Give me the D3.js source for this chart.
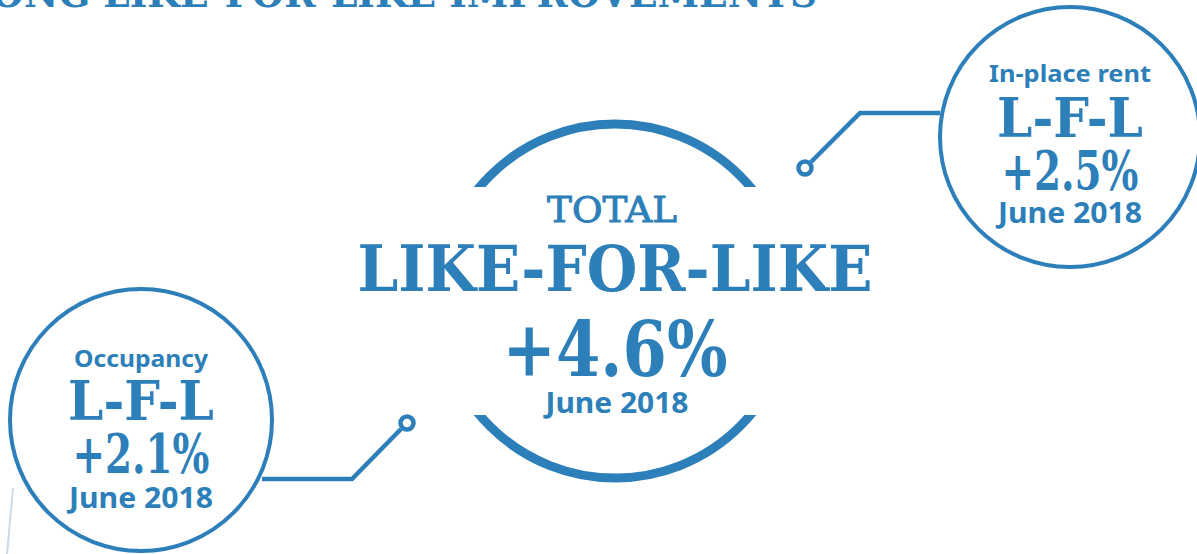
<!doctype html>
<html lang="en">
<head>
<meta charset="utf-8">
<title>Like-for-like improvements</title>
<style>
  body { margin: 0; background: #fff; }
  svg { display: block; }
</style>
<script src="https://d3js.org/d3.v7.min.js"></script>
</head>
<body>
<div id="chart"></div>
<script>
// chart values
var headline = "STRONG LIKE-FOR-LIKE IMPROVEMENTS";
var totalLabel = ["TOTAL", "LIKE-FOR-LIKE"];
var totalValue = 4.6;
var metricNames = ["Occupancy", "In-place rent"];
var metricValues = [2.1, 2.5];
var periodLabel = "June 2018";

var W = 1197, H = 554;
var blue = "#2c7fb8";
var serif = "'DejaVu Serif', 'Liberation Serif', serif";
var sans = "'Noto Sans', 'Open Sans', sans-serif";
var fmt = function(v) { return "+" + d3.format(".1f")(v) + "%"; };

var svg = d3.select("#chart").append("svg")
  .attr("width", W)
  .attr("height", H);

// cut-off title at the very top
svg.append("text")
  .attr("x", 817).attr("y", 7)
  .attr("text-anchor", "end")
  .attr("textLength", 912)
  .attr("lengthAdjust", "spacingAndGlyphs")
  .attr("font-family", serif).attr("font-weight", "bold")
  .attr("font-size", 40).attr("fill", blue)
  .text(headline);

// faint decoration bottom-left
svg.append("line")
  .attr("x1", 13).attr("y1", 488).attr("x2", 7).attr("y2", 554)
  .attr("stroke", "#c9dcec").attr("stroke-width", 2);

// big centre circle, cut where the text sits
var cx = 615, cy = 301, R = 177;
var clip = svg.append("defs").append("clipPath").attr("id", "cut");
clip.append("rect").attr("x", 0).attr("y", 0).attr("width", W).attr("height", 187);
clip.append("rect").attr("x", 0).attr("y", 415).attr("width", W).attr("height", H - 415);

svg.append("circle")
  .attr("cx", cx).attr("cy", cy).attr("r", R)
  .attr("fill", "none").attr("stroke", blue).attr("stroke-width", 9)
  .attr("clip-path", "url(#cut)");

var centre = svg.append("g").attr("fill", blue).attr("text-anchor", "middle");
centre.append("text")
  .attr("x", cx - 3).attr("y", 222)
  .attr("font-family", serif).attr("font-size", 35)
  .attr("stroke", blue).attr("stroke-width", 0.9)
  .attr("textLength", 130).attr("lengthAdjust", "spacingAndGlyphs")
  .text(totalLabel[0]);
centre.append("text")
  .attr("x", cx).attr("y", 291)
  .attr("font-family", serif).attr("font-weight", "bold").attr("font-size", 63)
  .attr("textLength", 515).attr("lengthAdjust", "spacingAndGlyphs")
  .text(totalLabel[1]);
centre.append("text")
  .attr("x", cx).attr("y", 376)
  .attr("font-family", serif).attr("font-weight", "bold").attr("font-size", 76)
  .attr("textLength", 225).attr("lengthAdjust", "spacingAndGlyphs")
  .text(fmt(totalValue));
centre.append("text")
  .attr("x", cx + 2).attr("y", 413)
  .attr("font-family", sans).attr("font-weight", "bold").attr("font-size", 28)
  .attr("textLength", 143).attr("lengthAdjust", "spacingAndGlyphs")
  .text(periodLabel);

// the two small circles with their connectors
var bubbles = [
  { name: metricNames[0], value: metricValues[0], x: 141, y: 420, r: 131,
    nameW: 134, lines: [367, 420, 473, 508],
    path: [[262, 479], [352, 479], [401, 429]], dot: [407, 423] },
  { name: metricNames[1], value: metricValues[1], x: 1070, y: 137, r: 130,
    nameW: 162, lines: [82, 137, 190, 223],
    path: [[940, 113], [860, 113], [811, 162]], dot: [805, 168] }
];

var line = d3.line();

bubbles.forEach(function(b) {
  svg.append("path")
    .attr("d", line(b.path))
    .attr("fill", "none").attr("stroke", blue).attr("stroke-width", 4.5)
    .attr("stroke-linejoin", "miter");
  svg.append("circle")
    .attr("cx", b.dot[0]).attr("cy", b.dot[1]).attr("r", 6.5)
    .attr("fill", "#fff").attr("stroke", blue).attr("stroke-width", 4.5);

  svg.append("circle")
    .attr("cx", b.x).attr("cy", b.y).attr("r", b.r)
    .attr("fill", "none").attr("stroke", blue).attr("stroke-width", 4);

  var g = svg.append("g").attr("fill", blue).attr("text-anchor", "middle");
  g.append("text")
    .attr("x", b.x).attr("y", b.lines[0])
    .attr("font-family", sans).attr("font-weight", "bold").attr("font-size", 24)
    .attr("textLength", b.nameW).attr("lengthAdjust", "spacingAndGlyphs")
    .text(b.name);
  g.append("text")
    .attr("x", b.x).attr("y", b.lines[1])
    .attr("font-family", serif).attr("font-weight", "bold").attr("font-size", 54)
    .attr("textLength", 146).attr("lengthAdjust", "spacingAndGlyphs")
    .text("L-F-L");
  g.append("text")
    .attr("x", b.x).attr("y", b.lines[2])
    .attr("font-family", serif).attr("font-weight", "bold").attr("font-size", 54)
    .attr("textLength", 137).attr("lengthAdjust", "spacingAndGlyphs")
    .text(fmt(b.value));
  g.append("text")
    .attr("x", b.x).attr("y", b.lines[3])
    .attr("font-family", sans).attr("font-weight", "bold").attr("font-size", 28)
    .attr("textLength", 144).attr("lengthAdjust", "spacingAndGlyphs")
    .text(periodLabel);
});
</script>
</body>
</html>
